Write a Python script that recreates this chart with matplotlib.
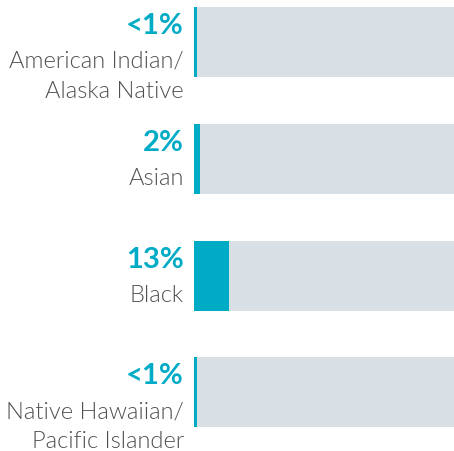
import matplotlib.pyplot as plt

# data
groups = ["American Indian/\nAlaska Native", "Asian", "Black", "Native Hawaiian/\nPacific Islander"]
values = [1, 2.3, 13.4, 1]
labels = ["<1%", "2%", "13%", "<1%"]

teal = "#00abc6"
grey_bg = "#d8e0e6"
txt_grey = "#505050"

fig = plt.figure(figsize=(4.54, 4.52), dpi=100)
ax = fig.add_axes([194 / 454, 0, 260 / 454, 1])

bar_h = 0.6
pos = list(range(len(groups)))
ax.barh(pos, [100] * len(pos), height=bar_h, color=grey_bg)
ax.barh(pos, values, height=bar_h, color=teal)

ax.set_xlim(0, 100)
ax.set_ylim(3.502, -0.368)
ax.axis("off")

for i, (g, lab) in enumerate(zip(groups, labels)):
    top = i - bar_h / 2
    ax.annotate(lab, xy=(0, top), xytext=(-10, -26), textcoords="offset pixels",
                ha="right", va="baseline", fontsize=21, fontweight="bold",
                family="Lato", color=teal, annotation_clip=False)
    for k, line in enumerate(g.split("\n")):
        ax.annotate(line, xy=(0, top), xytext=(-10, -60 - 30 * k), textcoords="offset pixels",
                    ha="right", va="baseline", fontsize=17, fontweight=300,
                    family="Lato", color=txt_grey, annotation_clip=False)

fig.savefig("out.png", dpi=100)
